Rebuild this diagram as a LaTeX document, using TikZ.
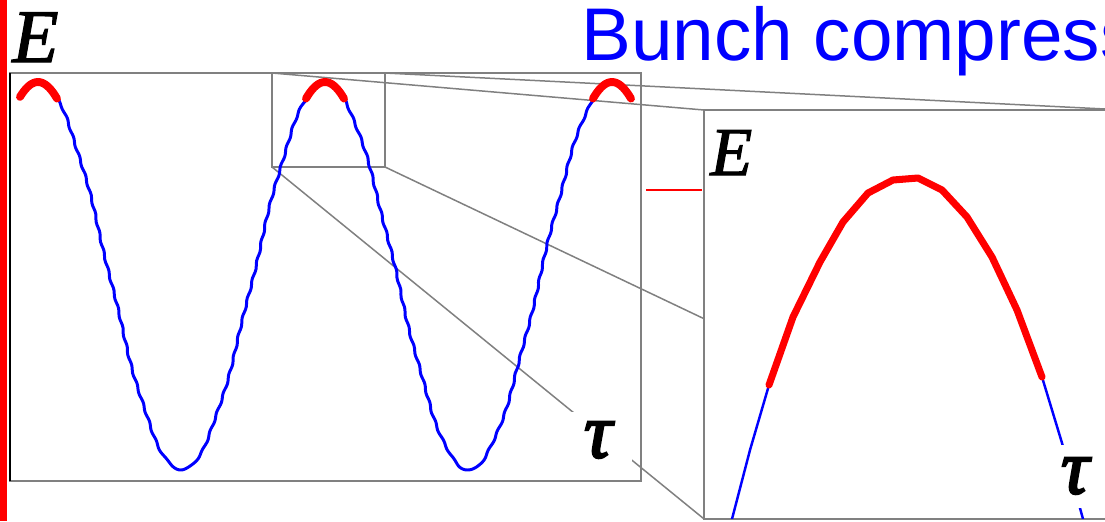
\documentclass[tikz,border=0pt]{standalone}
\usepackage{fontspec}
\setmainfont{Liberation Serif}
\newfontfamily\headfont{Liberation Sans}
\newfontfamily\efont{Liberation Serif Italic}[FakeBold=1.6]
\newfontfamily\taufont{Liberation Serif Italic}[FakeBold=3]
\usetikzlibrary{backgrounds}

\begin{document}
\begin{tikzpicture}[
        x=0.02cm,
        y=-0.02cm,
        frame/.style={draw=gray, line width=0.85pt, inner sep=0pt, outer sep=0pt, anchor=north west},
        zoomline/.style={draw=gray, line width=0.85pt},
        wave/.style={draw=blue, line width=1.7pt, line join=round},
        crest/.style={draw=red, line width=4.5pt, line cap=round, line join=round},
        lbl/.style={inner sep=0pt, font=\efont\fontsize{43}{43}\selectfont},
        taulbl/.style={inner sep=0pt, fill=white, font=\taufont\fontsize{44}{44}\selectfont}
    ]
        \path[use as bounding box] (0,0) rectangle (1105,521);
        \clip (0,0) rectangle (1105,521);

        % red margin bar and axis
        \fill[red] (0,0) rectangle (7,521);
        \node[frame, minimum width=12.62cm, minimum height=8.16cm] (plot) at (10,73) {};
        \draw[black, line width=1.1pt] (plot.north west) -- (plot.south west);

        % boxes
        \node[frame, minimum width=2.26cm, minimum height=1.88cm] (small) at (272,73) {};
        \node[frame, fill=white, minimum width=8.42cm, minimum height=8.18cm] (zoom) at (704,110) {};

        \begin{scope}[on background layer]
            \fill[white] (0,0) rectangle (1105,521);
            \clip (0,0) rectangle (1105,521);
            \draw[zoomline] (small.north west) -- (zoom.north west);
            \draw[zoomline] (small.north east) -- (zoom.north east);
            \draw[zoomline] (small.south west) -- (zoom.south west);
            \draw[zoomline] (small.south east) -- (zoom.south east);
        \end{scope}

        % rf wave with crests
        \draw[wave] plot[domain=20:632, samples=900, variable=\t]
            ({\t + 0.7*sin(19*(276 - 194*cos(1.2544*(\t-38)))) + 0.5*sin(13*\t)},
             {276 - 194*cos(1.2544*(\t-38))});
        \foreach \a/\b in {20/57, 306/344, 593/631}
            \draw[crest] plot[domain=\a:\b, samples=20, variable=\t]
                ({\t}, {276 - 194*cos(1.2544*(\t-38))});

        \draw[red, line width=0.9pt] (646,190) -- (702,190);

        % zoomed crest
        \begin{scope}
            \clip (zoom.north west) rectangle (zoom.south east);
            \draw[blue, line width=1.4pt] (769,385) -- (750,450) -- (732,519) -- (727,540);
            \draw[blue, line width=1.4pt] (1042,377) -- (1062,443) -- (1083,519) -- (1090,540);
            \draw[red, line width=4pt, line cap=round, line join=round]
                (769,385) -- (793,317) -- (820,262) -- (843,222) -- (868,193) -- (893,180)
                -- (918,178) -- (942,190) -- (967,217) -- (992,257) -- (1017,310) -- (1042,377);
        \end{scope}

        % labels
        \node[lbl, anchor=base west] (E1) at (12,62) {E};
        \node[lbl, anchor=base west, font=\efont\fontsize{39}{39}\selectfont] (E2) at (710,175) {E};
        \node[taulbl, minimum width=1.36cm, minimum height=1.12cm] (tau1) at (598,440) {τ};
        \node[taulbl, minimum width=1cm, minimum height=1.26cm] (tau2) at (1075,476) {τ};
        \node[inner sep=0pt, anchor=base west, text=blue, font=\headfont\fontsize{42.5}{42.5}\selectfont] (title) at (581,60) {Bunch compression};
    \end{tikzpicture}
\end{document}
